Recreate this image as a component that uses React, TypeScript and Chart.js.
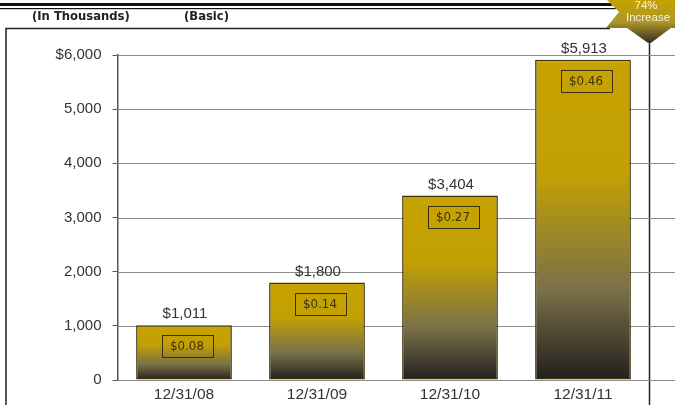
import React, { useEffect, useRef } from "react";
import { Chart, registerables } from "chart.js";

Chart.register(...registerables);

const categories = ["12/31/08", "12/31/09", "12/31/10", "12/31/11"];
const netIncome = [1011, 1800, 3404, 5913];
const valueLabels = ["$1,011", "$1,800", "$3,404", "$5,913"];
const epsLabels = ["$0.08", "$0.14", "$0.27", "$0.46"];
const yTickValues = [0, 1000, 2000, 3000, 4000, 5000, 6000];
const headerLeft = "(In Thousands)";
const headerRight = "(Basic)";
const badgeLines = ["74%", "Increase"];

const FONT = "'Liberation Sans', Arial, sans-serif";
const VFONT = "'DejaVu Sans', Verdana, sans-serif";

const decorPlugin = {
  id: "decor",
  beforeDraw(chart: any) {
    const ctx = chart.ctx;
    ctx.save();
    ctx.fillStyle = "#ffffff";
    ctx.fillRect(0, 0, chart.width, chart.height);
    // top double rule
    ctx.fillStyle = "#111";
    ctx.fillRect(0, 3, 612, 3);
    ctx.fillRect(0, 8, 616, 1.2);
    // header texts
    ctx.fillStyle = "#222";
    ctx.font = `bold 11.6px ${VFONT}`;
    ctx.textBaseline = "middle";
    ctx.textAlign = "left";
    ctx.fillText(headerLeft, 32, 16.5);
    ctx.fillText(headerRight, 184, 16.5);
    // frame
    ctx.strokeStyle = "#222";
    ctx.lineWidth = 1.5;
    ctx.beginPath();
    ctx.moveTo(6, 405);
    ctx.lineTo(6, 28.5);
    ctx.lineTo(610, 28.5);
    ctx.moveTo(649.5, 44);
    ctx.lineTo(649.5, 405);
    ctx.stroke();
    ctx.restore();
  },
  beforeDatasetsDraw(chart: any) {
    const ctx = chart.ctx;
    const y = chart.scales.y;
    const left = chart.chartArea.left;
    ctx.save();
    ctx.strokeStyle = "#8c8c8c";
    ctx.lineWidth = 1.2;
    yTickValues.forEach((v) => {
      const py = Math.round(y.getPixelForValue(v)) + 0.5;
      ctx.beginPath();
      ctx.moveTo(left, py);
      ctx.lineTo(675, py);
      ctx.stroke();
    });
    ctx.restore();
  },
  afterDatasetsDraw(chart: any) {
    const ctx = chart.ctx;
    const meta = chart.getDatasetMeta(0);
    ctx.save();
    meta.data.forEach((bar: any, i: number) => {
      // value above
      ctx.fillStyle = "#333";
      ctx.font = `15px ${FONT}`;
      ctx.textAlign = "center";
      ctx.textBaseline = "alphabetic";
      ctx.fillText(valueLabels[i], bar.x + 1, bar.y - 7);
      // eps box
      const bw = 51;
      const bh = 22;
      const cx = bar.x + 3;
      const top = bar.y + 10;
      ctx.strokeStyle = "#3a3010";
      ctx.lineWidth = 1;
      ctx.strokeRect(Math.round(cx - bw / 2) + 0.5, Math.round(top) + 0.5, bw, bh);
      ctx.fillStyle = "#3a3010";
      ctx.font = `11.8px ${VFONT}`;
      ctx.textBaseline = "middle";
      ctx.fillText(epsLabels[i], cx, top + bh / 2 + 1);
    });
    ctx.restore();
  },
  afterDraw(chart: any) {
    const ctx = chart.ctx;
    ctx.save();
    const g = ctx.createLinearGradient(0, 0, 0, 44);
    g.addColorStop(0, "#c6a300");
    g.addColorStop(0.5, "#ad9628");
    g.addColorStop(1, "#2e2a22");
    ctx.fillStyle = g;
    ctx.beginPath();
    ctx.moveTo(607, 0);
    ctx.lineTo(675, 0);
    ctx.lineTo(675, 28);
    ctx.lineTo(671, 28);
    ctx.lineTo(649.5, 44);
    ctx.lineTo(627, 28);
    ctx.lineTo(606, 28);
    ctx.lineTo(619, 12);
    ctx.closePath();
    ctx.fill();
    ctx.fillStyle = "#f4f2e8";
    ctx.font = `11.5px ${FONT}`;
    ctx.textAlign = "center";
    ctx.textBaseline = "middle";
    ctx.fillText(badgeLines[0], 646, 5.5);
    ctx.fillText(badgeLines[1], 648, 17.5);
    ctx.restore();
  },
};

export default function App() {
  const ref = useRef<HTMLCanvasElement | null>(null);
  useEffect(() => {
    document.body.style.margin = "0";
    const canvas = ref.current;
    if (!canvas) return;
    const chart = new Chart(canvas, {
      type: "bar",
      data: {
        labels: categories,
        datasets: [
          {
            data: netIncome,
            backgroundColor: (c: any) => {
              const ch = c.chart;
              if (!ch.chartArea || c.raw == null) return "#c4a000";
              const ys = ch.scales.y;
              const top = ys.getPixelForValue(c.raw);
              const bottom = ys.getPixelForValue(0);
              const g = ch.ctx.createLinearGradient(0, top, 0, bottom);
              g.addColorStop(0, "#c6a300");
              g.addColorStop(0.36, "#c2a004");
              g.addColorStop(0.72, "#7a7048");
              g.addColorStop(1, "#221f1f");
              return g;
            },
            borderColor: "#3c3308",
            borderWidth: 1.5,
            borderSkipped: false,
            barPercentage: 0.72,
            categoryPercentage: 1,
          },
        ],
      },
      options: {
        responsive: false,
        animation: false,
        devicePixelRatio: 1,
        layout: { padding: { left: 0, right: 25.5, top: 55, bottom: 0 } },
        plugins: {
          legend: { display: false },
          tooltip: { enabled: false },
        },
        scales: {
          x: {
            grid: { display: false },
            border: { display: false },
            ticks: { color: "#333", font: { size: 15.5, family: FONT }, padding: -3 },
            afterFit: (s: any) => {
              s.height = 25;
            },
          },
          y: {
            min: 0,
            max: 6000,
            ticks: {
              stepSize: 1000,
              color: "#333",
              font: { size: 15, family: FONT },
              padding: 11,
              callback: (v: any) => {
                const s = Number(v).toLocaleString("en-US");
                return Number(v) === 6000 ? "$" + s : s;
              },
            },
            grid: { drawOnChartArea: false, drawTicks: true, tickLength: 5, color: "#555" },
            border: { display: true, color: "#555", width: 1.5 },
            afterFit: (s: any) => {
              s.width = 117.5;
            },
          },
        },
      },
      plugins: [decorPlugin],
    });
    return () => chart.destroy();
  }, []);
  return (
    <div style={{ position: "fixed", left: 0, top: 0, width: 675, height: 405 }}>
      <canvas ref={ref} width={675} height={405} style={{ display: "block" }} />
    </div>
  );
}
